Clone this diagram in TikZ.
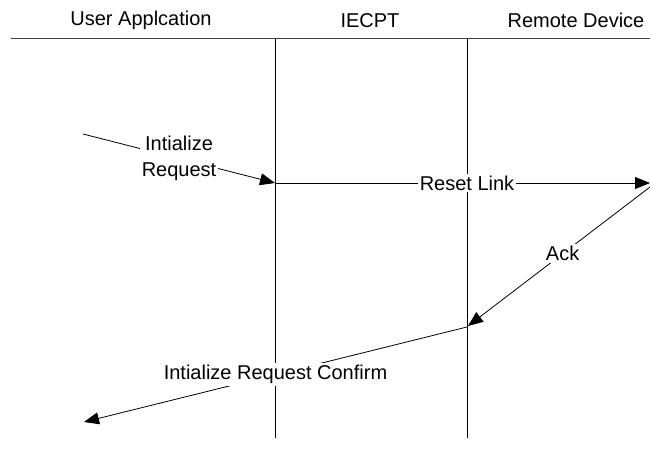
\documentclass[tikz,border=0pt]{standalone}
\usepackage{fontspec}
\setmainfont{Liberation Sans}
\usetikzlibrary{arrows.meta}
\begin{document}
\begin{tikzpicture}[x=1pt,y=-1pt,
  lbl/.style={font=\fontsize{20}{26}\selectfont, inner sep=2pt},
  msglabel/.style={fill=white, font=\fontsize{20}{26}\selectfont, inner sep=2pt, align=center},
  msg/.style={-{Triangle[length=15pt,width=12pt]}, line width=0.8pt},
  life/.style={line width=0.8pt}]
\useasboundingbox (0,0) rectangle (650,468);
% headers
\node[lbl] (hu) at (141,20.5) {User Applcation};
\node[lbl] (hi) at (370,20.5) {IECPT};
\node[lbl] (hr) at (576,20.5) {Remote Device};
\coordinate (hl) at (11,38);
\coordinate (hrr) at (650,38);
\draw[life, draw=black!75] (hl) -- (hrr);
% lifelines
\coordinate (t1) at (275,38);
\coordinate (b1) at (275,438);
\coordinate (t2) at (467,38);
\coordinate (b2) at (467,438);
\draw[life] (t1) -- (b1);
\draw[life] (t2) -- (b2);
% message points
\coordinate (s0) at (83,134);
\coordinate (p1) at (275,183);
\coordinate (p2) at (650,183);
\coordinate (p3) at (650,187);
\coordinate (p4) at (468,326);
\coordinate (p5) at (467,327);
\coordinate (p6) at (84,422);
\draw[msg] (s0) -- node[msglabel] {Intialize\\Request} (p1);
\draw[msg] (p1) -- node[msglabel, pos=0.512] {Reset Link} (p2);
\draw[msg] (p3) -- node[msglabel, pos=0.48] {Ack} (p4);
\draw[msg] (p5) -- node[msglabel] {Intialize Request Confirm} (p6);
\end{tikzpicture}
\end{document}
